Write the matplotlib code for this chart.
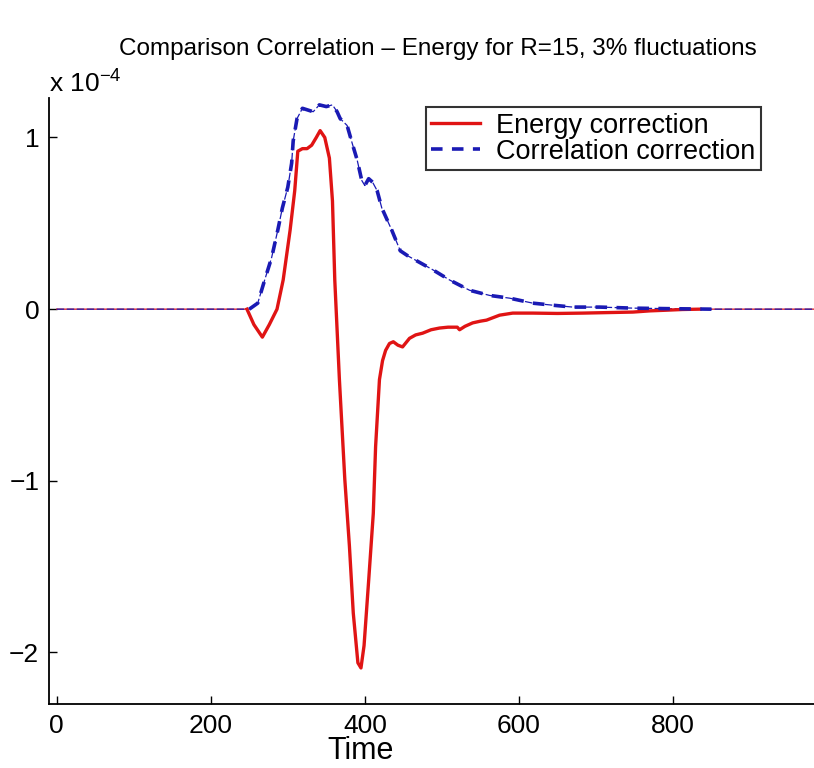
import numpy as np
import matplotlib
matplotlib.use('Agg')
import matplotlib.pyplot as plt

plt.rcParams['font.family'] = ['Liberation Sans', 'DejaVu Sans']
plt.rcParams['mathtext.fontset'] = 'custom'
plt.rcParams['mathtext.rm'] = 'Liberation Sans'

# Energy correction (units of 1e-4)
energy_t = np.array([0, 247, 256, 267, 276, 286, 294, 303, 309, 313, 319, 325, 331, 337,
                     342, 348, 354, 358, 361, 367, 374, 380, 385, 391, 395, 399, 405, 411,
                     414, 419, 423, 427, 432, 437, 443, 449, 458, 466, 475, 486, 497, 508,
                     520, 523, 530, 540, 550, 558, 575, 592, 618, 650, 683, 715, 748, 770,
                     792, 812, 835, 1000])
energy_v = np.array([0, 0, -0.09, -0.163, -0.09, 0.0, 0.17, 0.46, 0.69, 0.92, 0.935, 0.935,
                     0.955, 1.0, 1.04, 1.0, 0.88, 0.63, 0.17, -0.41, -0.99, -1.38, -1.77,
                     -2.06, -2.09, -1.96, -1.58, -1.19, -0.8, -0.41, -0.3, -0.24, -0.2,
                     -0.19, -0.21, -0.22, -0.17, -0.15, -0.14, -0.12, -0.11, -0.105, -0.105,
                     -0.12, -0.1, -0.08, -0.07, -0.064, -0.035, -0.023, -0.023, -0.025,
                     -0.023, -0.02, -0.017, -0.01, -0.006, -0.002, 0, 0])

# Correlation correction (units of 1e-4)
corr_t = np.array([0, 250, 261, 270, 279, 287, 293, 300, 305, 307, 312, 319, 326, 333, 341,
                   350, 358, 364, 368, 377, 384, 390, 396, 400, 405, 410, 416, 422, 435, 446,
                   456, 468, 488, 510, 536, 562, 588, 618, 644, 670, 705, 748, 792, 850, 1000])
corr_v = np.array([0, 0, 0.035, 0.17, 0.3, 0.46, 0.59, 0.71, 0.85, 0.98, 1.11, 1.17, 1.16,
                   1.15, 1.19, 1.18, 1.19, 1.15, 1.11, 1.07, 0.96, 0.87, 0.75, 0.72, 0.76,
                   0.74, 0.69, 0.59, 0.46, 0.34, 0.31, 0.28, 0.23, 0.17, 0.11, 0.08, 0.064,
                   0.035, 0.023, 0.012, 0.012, 0.006, 0.003, 0, 0])

red = '#e01414'
blue = '#1a1ab4'

fig = plt.figure(figsize=(8.14, 7.68), dpi=100)
ax = fig.add_axes([49 / 814, 64 / 768, 778 / 814, 606 / 768])

# thin baseline parts
ax.plot(energy_t, energy_v, color=red, lw=0.9)
ax.plot(corr_t, corr_v, color=blue, lw=0.9, dashes=(6, 2))

# active parts drawn thicker
m1 = (energy_t >= 247) & (energy_t <= 835)
m2 = (corr_t >= 250) & (corr_t <= 850)
ax.plot(energy_t[m1], energy_v[m1], color=red, lw=2.4, label='Energy correction')
ax.plot(corr_t[m2], corr_v[m2], color=blue, lw=2.6, dashes=(3.2, 2.6),
        label='Correlation correction')

ax.set_xlim(-10, 1000)
ax.set_ylim(-2.3, 1.23)
ax.set_xticks([0, 200, 400, 600, 800])
ax.set_yticks([-2, -1, 0, 1])
ax.tick_params(direction='in', length=6, width=1, labelsize=19, pad=7)
for s in ['top', 'right']:
    ax.spines[s].set_visible(False)
for s in ['left', 'bottom']:
    ax.spines[s].set_linewidth(1.3)

ax.set_xlabel('Time', fontsize=22, labelpad=2)
ax.xaxis.set_label_coords(0.40, -0.052)
ax.set_title('Comparison Correlation \u2013 Energy for R=15, 3% fluctuations',
             fontsize=17.5, pad=31)
fig.text(49 / 814, 1 - 92 / 768, 'x 10$^{-4}$', fontsize=19, ha='left', va='baseline')

leg = ax.legend(loc='upper left', bbox_to_anchor=(0.4846, 0.985), fontsize=19.5,
                frameon=True, fancybox=False, handlelength=1.8, handletextpad=0.6,
                borderpad=0.2, labelspacing=0.0, borderaxespad=0)
leg.get_frame().set_edgecolor('black')
leg.get_frame().set_linewidth(1.5)

fig.savefig('out.png', dpi=100)
